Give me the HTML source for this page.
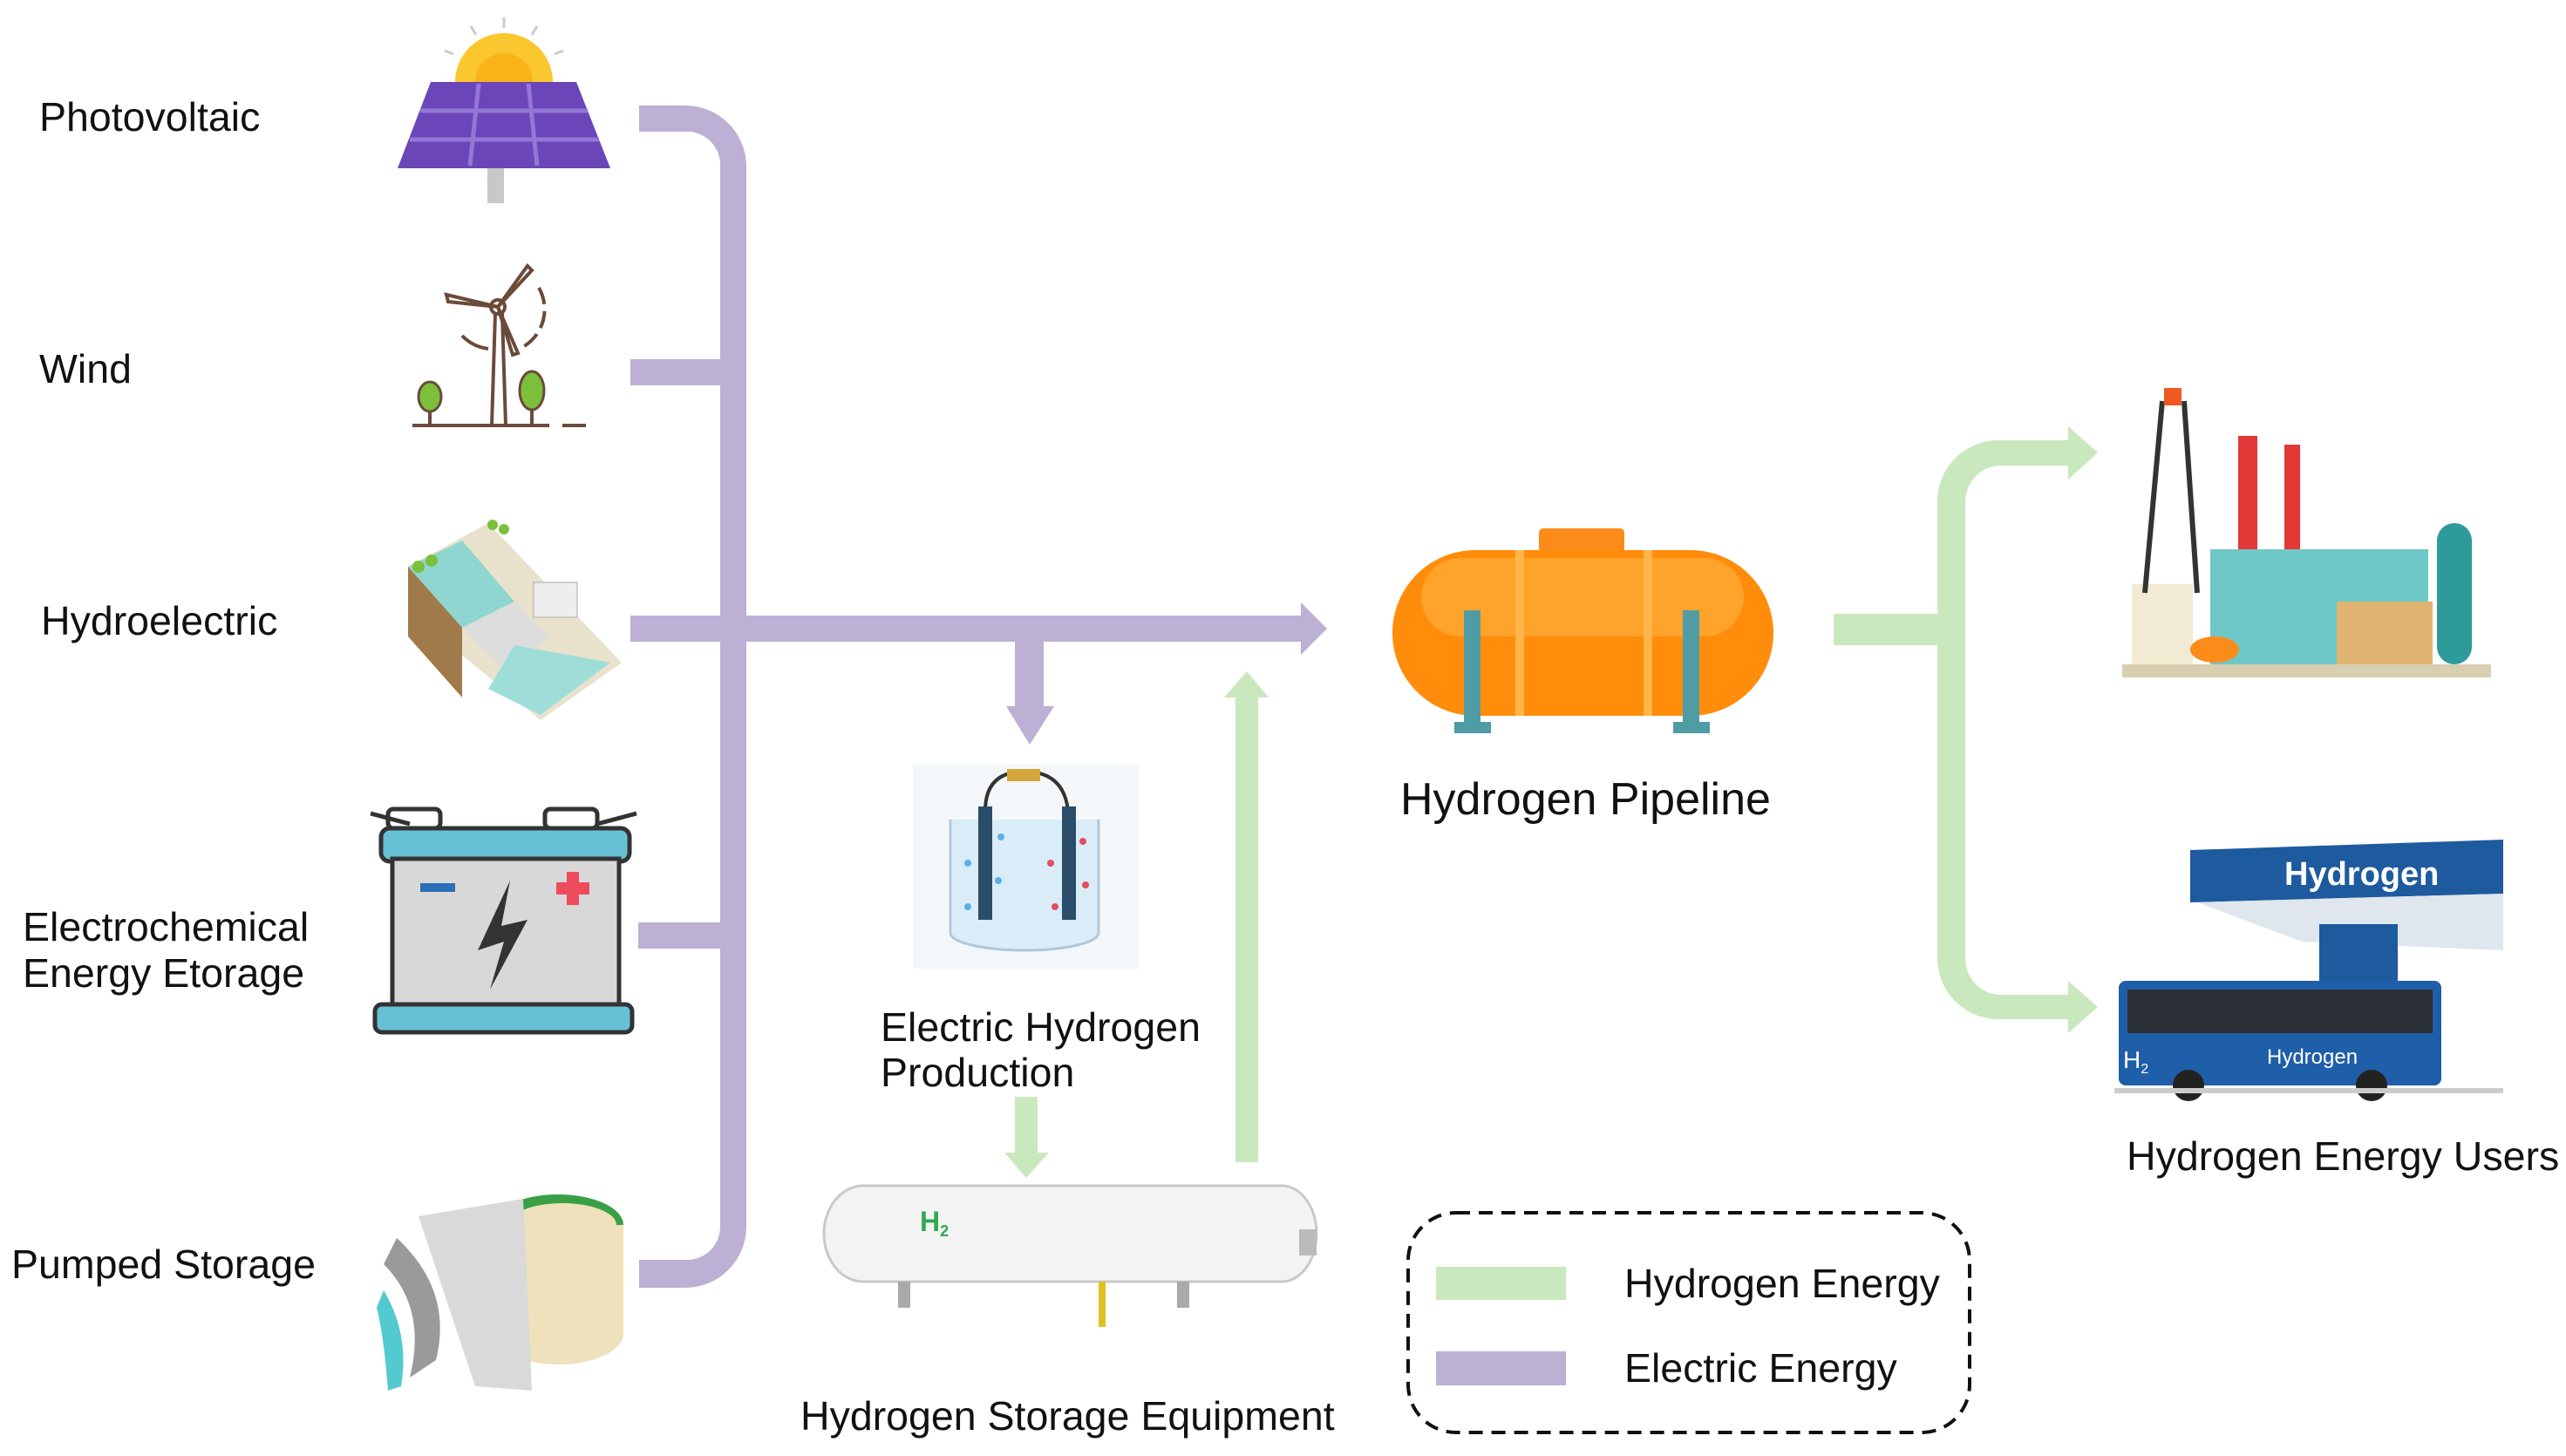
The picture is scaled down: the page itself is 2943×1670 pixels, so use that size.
<!DOCTYPE html>
<html><head><meta charset="utf-8"><style>
html,body{margin:0;padding:0;background:#fff;}
svg{display:block;}
text{font-family:"Liberation Sans",sans-serif;fill:#111;}
</style></head><body>
<svg width="2943" height="1670" viewBox="0 0 2943 1670" xmlns="http://www.w3.org/2000/svg">
<!-- Purple electric network -->
<g fill="#bcb0d4">
  <path d="M733 121 H786 A70 70 0 0 1 856 191 V1407 A70 70 0 0 1 786 1477 H733 V1445 H786 A38 38 0 0 0 826 1407 V191 A38 38 0 0 0 786 151 H733 Z"/>
  <rect x="723" y="412" width="110" height="30"/>
  <rect x="723" y="706" width="110" height="30"/>
  <rect x="732" y="1058" width="100" height="30"/>
  <rect x="850" y="706" width="645" height="30"/>
  <polygon points="1492,691 1522,721 1492,751"/>
  <rect x="1164" y="730" width="33" height="82"/>
  <polygon points="1154,810 1209,810 1181,854"/>
</g>
<!-- Green hydrogen network -->
<g fill="#c9e8bd">
  <rect x="1417" y="795" width="26" height="538"/>
  <polygon points="1404,800 1455,800 1430,770"/>
  <rect x="1164" y="1258" width="26" height="68"/>
  <polygon points="1152,1322 1203,1322 1177,1351"/>
  <rect x="2103" y="704" width="130" height="36"/>
  <path d="M2378 505 H2292 A70 70 0 0 0 2222 575 V1099 A70 70 0 0 0 2292 1169 H2378 V1141 H2292 A42 42 0 0 1 2254 1099 V575 A42 42 0 0 1 2292 534 H2378 Z"/>
  <polygon points="2372,489 2406,519 2372,550"/>
  <polygon points="2372,1125 2406,1155 2372,1185"/>
</g>

<!-- Labels -->
<g font-size="46.5">
  <text x="45" y="150">Photovoltaic</text>
  <text x="45" y="439">Wind</text>
  <text x="47" y="728">Hydroelectric</text>
  <text x="26" y="1079">Electrochemical</text>
  <text x="26" y="1132">Energy Etorage</text>
  <text x="13" y="1466">Pumped Storage</text>
  <text x="1010" y="1194">Electric Hydrogen</text>
  <text x="1010" y="1246">Production</text>
  <text x="918" y="1640">Hydrogen Storage Equipment</text>
  <text x="2439" y="1342">Hydrogen Energy Users</text>
</g>
<text x="1606" y="934" font-size="52">Hydrogen Pipeline</text>

<!-- Legend -->
<rect x="1615" y="1391" width="644" height="252" rx="55" fill="none" stroke="#111" stroke-width="4" stroke-dasharray="16,10"/>
<rect x="1647" y="1453" width="149" height="38" fill="#c9e8bd"/>
<rect x="1647" y="1550" width="149" height="39" fill="#bcb0d4"/>
<text x="1863" y="1488" font-size="46.5">Hydrogen Energy</text>
<text x="1863" y="1585" font-size="46.5">Electric Energy</text>

<!-- Solar icon -->
<g>
  <path d="M522 94 A56 56 0 0 1 634 94 Z" fill="#fbc72e"/>
  <path d="M545 94 A33 33 0 0 1 611 94 Z" fill="#f8b418"/>
  <g stroke="#ccc" stroke-width="3"><line x1="578" y1="20" x2="578" y2="32"/><line x1="540" y1="30" x2="546" y2="40"/><line x1="616" y1="30" x2="610" y2="40"/><line x1="510" y1="58" x2="520" y2="62"/><line x1="646" y1="58" x2="636" y2="62"/></g>
  <rect x="559" y="193" width="19" height="40" fill="#c8c8c8"/>
  <polygon points="494,94 661,94 700,193 456,193" fill="#6b46b8"/>
  <g stroke="#9377d6" stroke-width="5" fill="none">
    <line x1="482" y1="127" x2="674" y2="127"/><line x1="470" y1="160" x2="687" y2="160"/>
    <line x1="549" y1="96" x2="539" y2="190"/><line x1="606" y1="96" x2="616" y2="190"/>
  </g>
</g>
<!-- Wind icon -->
<g stroke="#6b4a3a" stroke-width="4" fill="none">
  <line x1="473" y1="488" x2="630" y2="488"/><line x1="645" y1="488" x2="672" y2="488"/>
  <path d="M564 488 L568 360 L576 360 L580 488"/>
  <circle cx="571" cy="352" r="8"/>
  <path d="M571 352 L512 338 L514 346 Z M571 352 L605 305 L610 310 Z M571 352 L594 405 L588 407 Z"/>
  <path d="M618 330 A50 50 0 0 1 596 400" stroke-dasharray="20,8"/>
  <path d="M530 385 A50 50 0 0 0 560 400" />
  <line x1="493" y1="470" x2="493" y2="488"/><line x1="610" y1="465" x2="610" y2="488"/>
</g>
<ellipse cx="493" cy="455" rx="13" ry="17" fill="#7cbf3a" stroke="#6b4a3a" stroke-width="3"/>
<ellipse cx="610" cy="448" rx="14" ry="22" fill="#7cbf3a" stroke="#6b4a3a" stroke-width="3"/>
<!-- Hydro dam icon -->
<g>
  <polygon points="468,650 560,600 713,760 620,826 468,700" fill="#e8e2cc"/>
  <polygon points="468,650 530,620 590,690 530,720" fill="#8fd6d0"/>
  <polygon points="468,650 530,720 530,800 468,730" fill="#a07a4a"/>
  <polygon points="530,720 590,690 630,730 580,770" fill="#ddd"/>
  <polygon points="590,740 700,760 620,820 560,790" fill="#9fded8"/>
  <rect x="612" y="668" width="50" height="40" fill="#eee" stroke="#aaa"/>
  <g fill="#7cbf3a"><circle cx="480" cy="650" r="7"/><circle cx="495" cy="643" r="7"/><circle cx="565" cy="602" r="6"/><circle cx="578" cy="607" r="6"/></g>
</g>
<!-- Battery icon -->
<g>
  <rect x="445" y="928" width="60" height="22" rx="6" fill="#fff" stroke="#333" stroke-width="5"/>
  <rect x="625" y="928" width="60" height="22" rx="6" fill="#fff" stroke="#333" stroke-width="5"/>
  <line x1="425" y1="933" x2="470" y2="945" stroke="#333" stroke-width="5"/>
  <line x1="730" y1="933" x2="685" y2="945" stroke="#333" stroke-width="5"/>
  <rect x="437" y="950" width="285" height="38" rx="10" fill="#66c1d6" stroke="#333" stroke-width="5"/>
  <rect x="450" y="985" width="260" height="170" fill="#d8d8d8" stroke="#333" stroke-width="5"/>
  <rect x="430" y="1152" width="295" height="32" rx="8" fill="#66c1d6" stroke="#333" stroke-width="5"/>
  <rect x="482" y="1013" width="40" height="10" fill="#2a6fb8"/>
  <path d="M650 1000 h14 v12 h12 v14 h-12 v12 h-14 v-12 h-12 v-14 h12 z" fill="#ee4b5c"/>
  <polygon points="585,1010 548,1090 578,1080 562,1135 605,1055 575,1062" fill="#333"/>
</g>
<!-- Pumped storage icon -->
<g>
  <ellipse cx="640" cy="1405" rx="75" ry="35" fill="#39a046"/>
  <path d="M565 1405 V1530 A75 35 0 0 0 715 1530 V1405 Z" fill="#eee1bc"/>
  <ellipse cx="645" cy="1405" rx="62" ry="25" fill="#eee1bc"/>
  <polygon points="480,1395 600,1375 610,1595 545,1590" fill="#d9d9d9"/>
  <path d="M455 1420 Q520 1480 500 1560 L470 1580 Q490 1500 440 1450 Z" fill="#9a9a9a"/>
  <path d="M440 1480 Q470 1530 460 1590 L445 1595 Q440 1530 432 1500 Z" fill="#53c9d0"/>
</g>
<!-- Electrolyzer -->
<g>
  <rect x="1047" y="877" width="259" height="234" fill="#f4f7fa"/>
  <path d="M1090 940 V1070 A85 20 0 0 0 1260 1070 V940" fill="#d9ecf8" stroke="#b0c8d8" stroke-width="3"/>
  <path d="M1130 930 Q1130 885 1175 885 Q1220 885 1225 930" fill="none" stroke="#333" stroke-width="4"/>
  <rect x="1155" y="882" width="38" height="14" fill="#d6a63a"/>
  <rect x="1122" y="925" width="16" height="130" fill="#2a4e6a"/>
  <rect x="1218" y="925" width="16" height="130" fill="#2a4e6a"/>
  <g fill="#5ab0e8"><circle cx="1110" cy="990" r="4"/><circle cx="1145" cy="1010" r="4"/><circle cx="1110" cy="1040" r="4"/><circle cx="1148" cy="960" r="4"/></g>
  <g fill="#e05060"><circle cx="1205" cy="990" r="4"/><circle cx="1245" cy="1015" r="4"/><circle cx="1210" cy="1040" r="4"/><circle cx="1242" cy="965" r="4"/></g>
</g>
<!-- Storage tank -->
<g>
  <path d="M990 1360 H1470 A40 55 0 0 1 1470 1470 H990 A45 55 0 0 1 990 1360 Z" fill="#f3f3f3" stroke="#c9c9c9" stroke-width="3"/>
  <rect x="1030" y="1470" width="14" height="30" fill="#aaa"/>
  <rect x="1260" y="1470" width="8" height="52" fill="#e0c020"/>
  <rect x="1350" y="1470" width="14" height="30" fill="#aaa"/>
  <text x="1055" y="1412" font-size="32" font-weight="bold" style="fill:#2fa84f">H<tspan font-size="18" dy="6">2</tspan></text>
  <rect x="1490" y="1410" width="20" height="30" fill="#bbb"/>
</g>
<!-- Pipeline tank (orange) -->
<g>
  <rect x="1765" y="606" width="98" height="28" rx="5" fill="#fb8c1a"/>
  <rect x="1597" y="631" width="437" height="190" rx="95" fill="#ff8c0a"/>
  <rect x="1630" y="640" width="370" height="90" rx="45" fill="#ffa32a"/>
  <rect x="1738" y="631" width="10" height="190" fill="#ffb54a"/>
  <rect x="1885" y="631" width="10" height="190" fill="#ffb54a"/>
  <rect x="1679" y="700" width="19" height="130" fill="#4f9ca4"/>
  <rect x="1930" y="700" width="19" height="130" fill="#4f9ca4"/>
  <rect x="1668" y="828" width="42" height="13" fill="#4f9ca4"/>
  <rect x="1919" y="828" width="42" height="13" fill="#4f9ca4"/>
</g>
<!-- Factory -->
<g>
  <rect x="2434" y="762" width="423" height="15" fill="#d8cfb0"/>
  <rect x="2445" y="670" width="70" height="92" fill="#f2ead2"/>
  <path d="M2480 460 L2460 680 M2505 460 L2520 680" stroke="#333" stroke-width="6"/>
  <rect x="2482" y="445" width="20" height="20" fill="#f05a22"/>
  <rect x="2567" y="500" width="22" height="170" fill="#e23838"/>
  <rect x="2620" y="510" width="18" height="160" fill="#e23838"/>
  <rect x="2535" y="630" width="250" height="132" fill="#6fc8c8"/>
  <rect x="2680" y="690" width="110" height="72" fill="#e2b471"/>
  <rect x="2795" y="600" width="40" height="162" rx="20" fill="#2e9b9a"/>
  <ellipse cx="2540" cy="745" rx="28" ry="15" fill="#fb8c1a"/>
</g>
<!-- Station -->
<g>
  <polygon points="2512,975 2871,963 2871,1025 2512,1035" fill="#1e5a9e"/>
  <text x="2620" y="1015" font-size="38" font-weight="bold" style="fill:#fff">Hydrogen</text>
  <polygon points="2520,1035 2871,1025 2871,1090 2640,1080" fill="#dfe6ee"/>
  <rect x="2660" y="1060" width="90" height="80" fill="#1e5a9e"/>
  <rect x="2430" y="1125" width="370" height="120" rx="8" fill="#1f5ea8"/>
  <rect x="2440" y="1135" width="350" height="50" fill="#2b2f36"/>
  <text x="2600" y="1220" font-size="24" style="fill:#fff">Hydrogen</text>
  <text x="2435" y="1225" font-size="28" style="fill:#fff">H<tspan font-size="16" dy="6">2</tspan></text>
  <circle cx="2510" cy="1245" r="18" fill="#222"/>
  <circle cx="2720" cy="1245" r="18" fill="#222"/>
  <rect x="2425" y="1248" width="446" height="6" fill="#ccc"/>
</g>
</svg>
</body></html>
